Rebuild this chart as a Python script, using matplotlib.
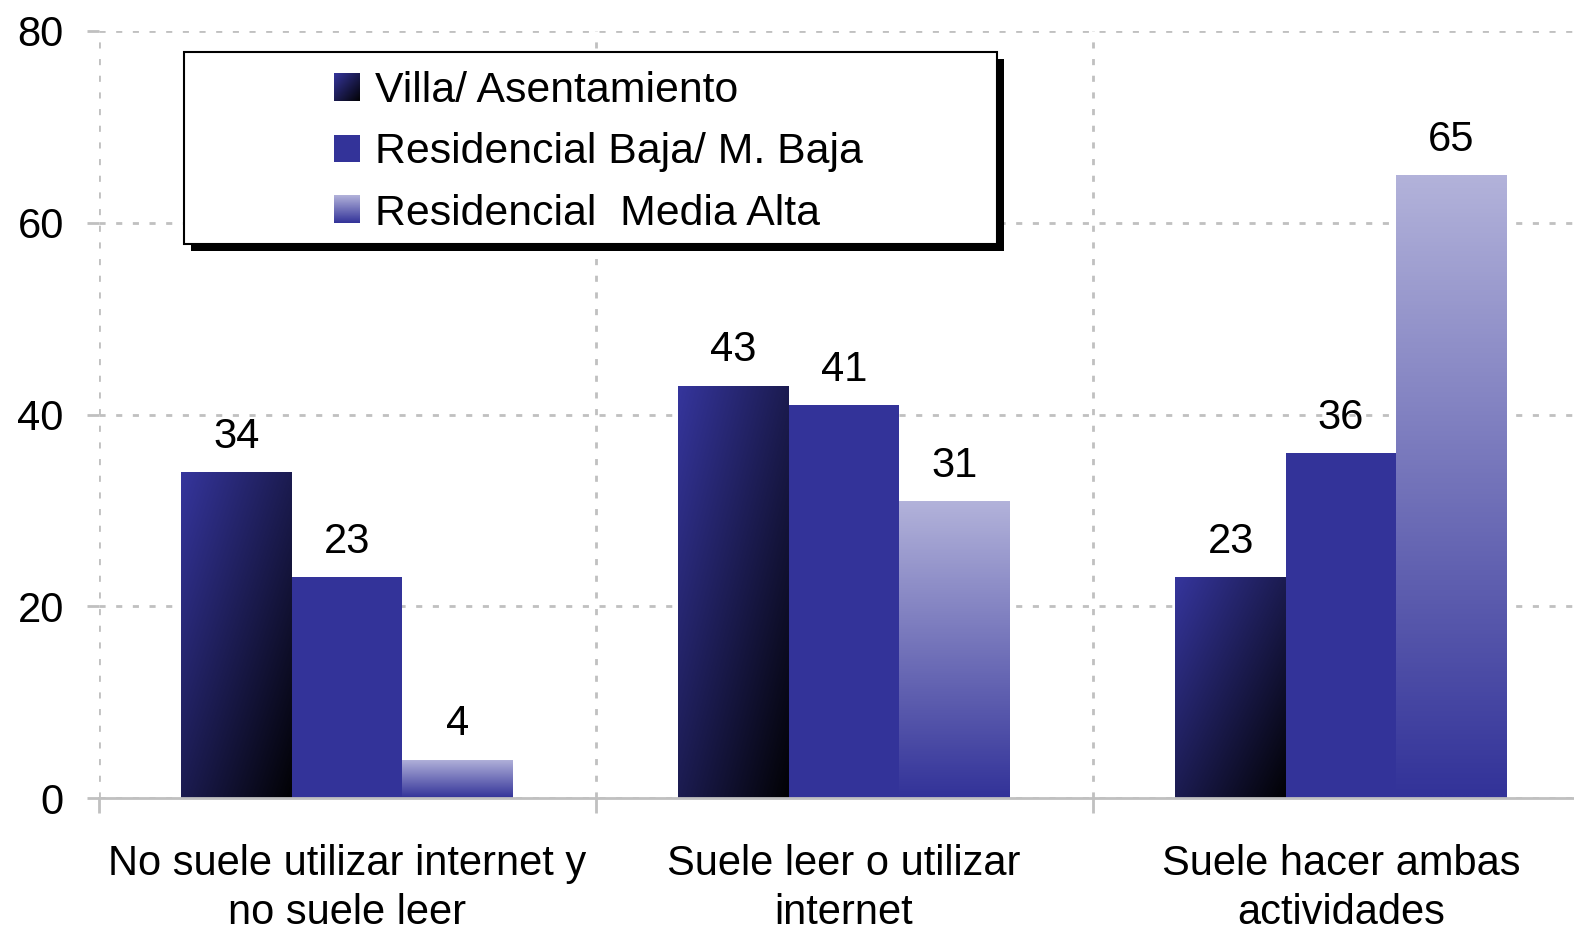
import numpy as np
import matplotlib
matplotlib.use('Agg')
import matplotlib.pyplot as plt
from matplotlib.colors import LinearSegmentedColormap, Normalize
from matplotlib.patches import Rectangle
from matplotlib.legend_handler import HandlerBase
from matplotlib.image import BboxImage
from matplotlib.transforms import Bbox, TransformedBbox

plt.rcParams['font.family'] = ['Liberation Sans', 'DejaVu Sans']

# datos
categorias = ['No suele utilizar internet y\nno suele leer',
              'Suele leer o utilizar\ninternet',
              'Suele hacer ambas\nactividades']
series = ['Villa/ Asentamiento', 'Residencial Baja/ M. Baja', 'Residencial  Media Alta']
villa = [34, 43, 23]
baja = [23, 41, 36]
media_alta = [4, 31, 65]

W, H = 1574, 932
fig = plt.figure(figsize=(W / 100, H / 100), dpi=100)
ax = fig.add_axes([98.5 / W, 134 / H, 1491 / W, 767 / H])

x = np.arange(len(categorias))
ancho = 0.222
b1 = ax.bar(x - ancho, villa, ancho, color='#262670', zorder=2)
b2 = ax.bar(x, baja, ancho, color='#333399', zorder=2)
b3 = ax.bar(x + ancho, media_alta, ancho, color='#7878b8', zorder=2)

# rellenos con degradado (diagonal para Villa, vertical para Media Alta)
u, v = np.meshgrid(np.linspace(0, 1, 80), np.linspace(0, 1, 80))
img_diag = (u + v) / 2
img_vert = v
cm1 = LinearSegmentedColormap.from_list('villa', ['#35359c', '#020205'])
cm3 = LinearSegmentedColormap.from_list('media', ['#b2b2da', '#333399'])


def rellenar(barras, img, cmap):
    for p in barras:
        x0, w, h = p.get_x(), p.get_width(), p.get_height()
        im = ax.imshow(img, cmap=cmap, vmin=0, vmax=1, origin='upper',
                       extent=(x0, x0 + w, 0, h), aspect='auto',
                       interpolation='bilinear', zorder=2.1)
        im.set_clip_path(p)


rellenar(b1, img_diag, cm1)
rellenar(b3, img_vert, cm3)

for b in (b1, b2, b3):
    ax.bar_label(b, padding=11, fontsize=30)

ax.set_xlim(-0.5, 2.5)
ax.set_ylim(0, 80)
ax.set_yticks([0, 20, 40, 60, 80])
ax.set_xticks(x)
ax.set_xticklabels(categorias, linespacing=1.3)
ax.set_xticks([-0.5, 0.5, 1.5, 2.5], minor=True)
ax.tick_params(axis='x', which='major', length=0, pad=33, labelsize=30)
ax.tick_params(axis='x', which='minor', length=11, width=2, color='#c0c0c0')
ax.tick_params(axis='y', length=9, width=2, color='#c0c0c0', pad=16, labelsize=30)
ax.set_axisbelow(True)
guiones = (0, (2.2, 3.8))
ax.grid(axis='y', color='#c0c0c0', linestyle=guiones, lw=2)
ax.grid(axis='x', which='minor', color='#c0c0c0', linestyle=guiones, lw=2)
for s in ('left', 'right', 'top'):
    ax.spines[s].set_visible(False)
ax.spines['bottom'].set_color('#c0c0c0')
ax.spines['bottom'].set_linewidth(2)


# marco de la leyenda con sombra negra
def caja(x0, y0, x1, y1, **kw):
    return Rectangle((x0 / W, 1 - y1 / H), (x1 - x0) / W, (y1 - y0) / H,
                     transform=fig.transFigure, **kw)


fig.patches.append(caja(191, 59, 1004, 251, facecolor='black', edgecolor='none', zorder=5))
fig.patches.append(caja(184, 52, 997, 244, facecolor='white', edgecolor='black', lw=1.5, zorder=6))


class HandlerGradiente(HandlerBase):
    def __init__(self, img, cmap):
        super().__init__()
        self.img = img
        self.cmap = cmap

    def create_artists(self, legend, orig_handle, xdescent, ydescent,
                       width, height, fontsize, trans):
        bb = TransformedBbox(Bbox.from_bounds(-xdescent, -ydescent, width, height), trans)
        im = BboxImage(bb, cmap=self.cmap, norm=Normalize(0, 1), interpolation='bilinear')
        im.set_data(self.img)
        return [im]


leg = fig.legend(handles=[b1, b2, b3], labels=series, loc='upper left',
                 bbox_to_anchor=(334 / W, 1 - 71 / H), frameon=False, fontsize=30.8,
                 handlelength=0.6, handleheight=0.6, handletextpad=0.36,
                 labelspacing=0.5, borderpad=0, borderaxespad=0,
                 handler_map={b1: HandlerGradiente(img_diag, cm1),
                              b3: HandlerGradiente(img_vert, cm3)})
leg.set_zorder(7)

fig.savefig('out.png', dpi=100)
